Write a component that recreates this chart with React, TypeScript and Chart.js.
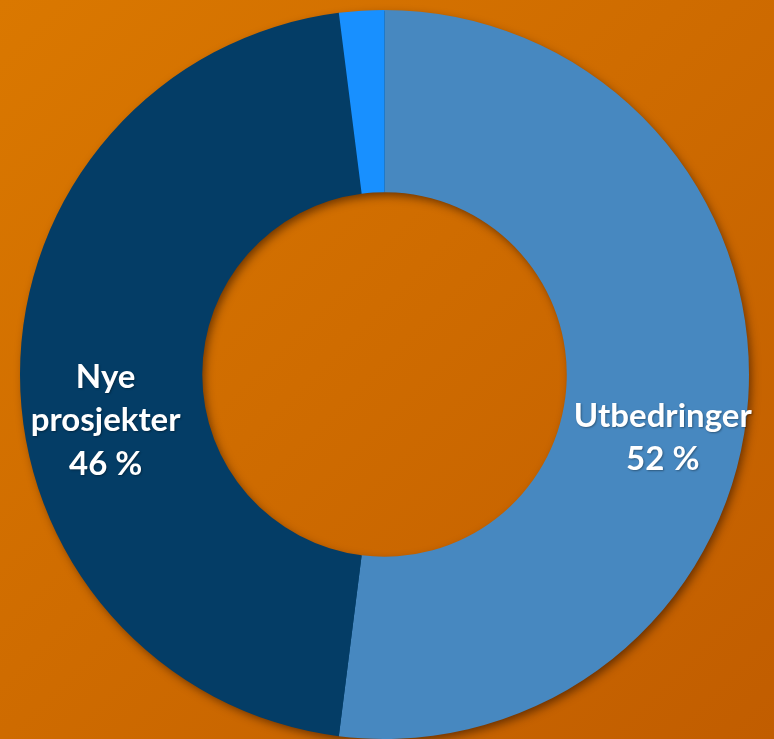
import React, { useEffect, useRef } from 'react';
import { Chart, registerables } from 'chart.js';

Chart.register(...registerables);

const categories = ['Utbedringer', 'Nye prosjekter', 'Annet'];
const values = [52, 46, 2];
const showLabel = [true, true, false];
const sliceColors = ['#4788C0', '#043D66', '#1890FF'];

const ringShadow = {
  id: 'ringShadow',
  beforeDatasetsDraw(chart: any) {
    const meta = chart.getDatasetMeta(0);
    const arc = meta.data[0];
    if (!arc) return;
    const { x, y, innerRadius, outerRadius } = arc.getProps(['x', 'y', 'innerRadius', 'outerRadius'], true);
    const ctx = chart.ctx;
    ctx.save();
    ctx.shadowColor = 'rgba(50,20,0,0.65)';
    ctx.shadowBlur = 10;
    ctx.shadowOffsetX = 3;
    ctx.shadowOffsetY = 4;
    ctx.beginPath();
    ctx.arc(x, y, outerRadius - 1, 0, Math.PI * 2);
    ctx.arc(x, y, innerRadius + 1, 0, Math.PI * 2, true);
    ctx.closePath();
    ctx.fillStyle = '#053E67';
    ctx.fill();
    ctx.restore();
  },
};

const sliceLabels = {
  id: 'sliceLabels',
  afterDatasetsDraw(chart: any) {
    const meta = chart.getDatasetMeta(0);
    const ctx = chart.ctx;
    ctx.save();
    ctx.fillStyle = '#FFFFFF';
    ctx.font = 'bold 33px Lato';
    ctx.textAlign = 'center';
    ctx.textBaseline = 'alphabetic';
    ctx.shadowColor = 'rgba(0,0,0,0.35)';
    ctx.shadowBlur = 2;
    ctx.shadowOffsetX = 1;
    ctx.shadowOffsetY = 1;
    meta.data.forEach((arc: any, i: number) => {
      if (!showLabel[i]) return;
      const p = arc.getProps(['x', 'y', 'startAngle', 'endAngle', 'innerRadius', 'outerRadius'], true);
      const mid = (p.startAngle + p.endAngle) / 2;
      const r = ((p.innerRadius + p.outerRadius) / 2) * 1.02;
      const cx = p.x + Math.cos(mid) * r;
      const cy = p.y + Math.sin(mid) * r + 45;
      const lines = [...categories[i].split(' '), `${values[i]} %`];
      const lh = 43.5;
      const capH = 23;
      const firstBase = cy - ((lines.length - 1) * lh) / 2 + capH / 2;
      lines.forEach((t, k) => ctx.fillText(t, cx, firstBase + k * lh));
    });
    ctx.restore();
  },
};

export default function App() {
  const ref = useRef<HTMLCanvasElement | null>(null);
  useEffect(() => {
    document.body.style.margin = '0';
    if (!ref.current) return;
    const chart = new Chart(ref.current, {
      type: 'doughnut',
      data: {
        labels: categories,
        datasets: [
          {
            data: values,
            backgroundColor: sliceColors,
            borderWidth: 0,
            hoverOffset: 0,
          },
        ],
      },
      options: {
        responsive: false,
        animation: false,
        cutout: '50%',
        layout: { padding: { left: 20, right: 25, top: 10, bottom: 0 } },
        plugins: {
          legend: { display: false },
          tooltip: { enabled: false },
        },
        events: [],
      },
      plugins: [ringShadow, sliceLabels],
    });
    return () => chart.destroy();
  }, []);
  return (
    <div
      style={{
        width: 774,
        height: 739,
        overflow: 'hidden',
        background: 'linear-gradient(135deg, #DA7800 0%, #CF6C00 45%, #C15D00 100%)',
      }}
    >
      <canvas ref={ref} width={774} height={739} style={{ display: 'block' }} />
    </div>
  );
}
